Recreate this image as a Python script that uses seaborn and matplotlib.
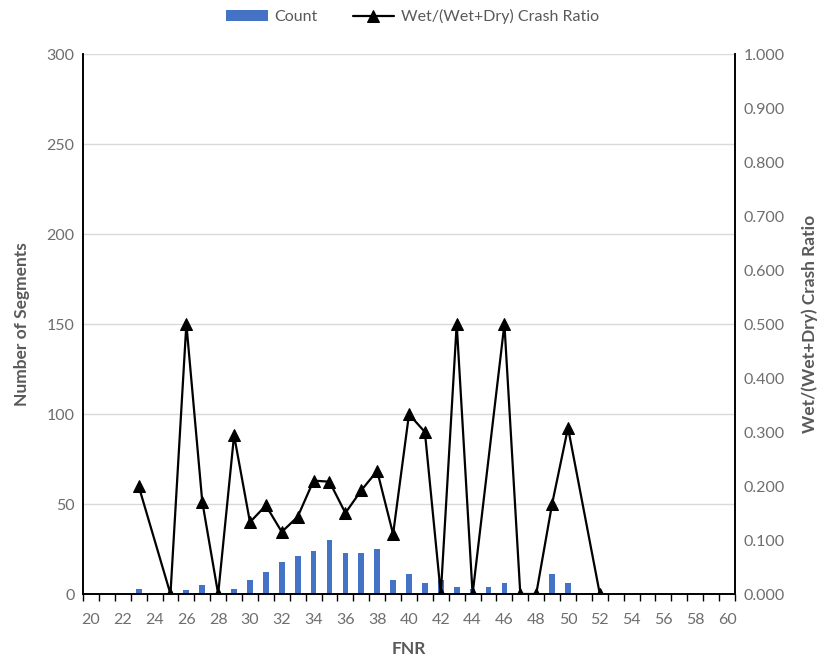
import matplotlib
matplotlib.use('Agg')
import matplotlib.pyplot as plt
import matplotlib.ticker as mticker
import seaborn as sns
import numpy as np
import pandas as pd

# FNR categories 20..60
fnr = list(range(20, 61))

# Number of segments per FNR value
count = [0, 0, 0, 3, 0, 1, 2, 5, 0, 3,
         8, 12, 18, 21, 24, 30, 23, 23, 25, 8,
         11, 6, 8, 4, 3, 4, 6, 0, 0, 11,
         6, 0, 0, 0, 0, 0, 0, 0, 0, 0,
         0]

# Wet/(Wet+Dry) crash ratio (nan = no value)
nan = np.nan
ratio = [nan, nan, nan, 0.200, nan, 0.000, 0.500, 0.171, 0.000, 0.294,
         0.133, 0.164, 0.115, 0.143, 0.210, 0.208, 0.150, 0.192, 0.228, 0.111,
         0.333, 0.300, 0.000, 0.500, 0.000, nan, 0.500, 0.000, 0.000, 0.167,
         0.308, nan, 0.000, nan, nan, nan, nan, nan, nan, nan,
         nan]

df = pd.DataFrame({'FNR': fnr, 'Count': count, 'Ratio': ratio})

sns.set_style('white')
plt.rcParams['font.family'] = ['Lato', 'DejaVu Sans']

grey = '#595959'
tick_grey = '#6e6e6e'
bar_color = '#4472C4'

fig = plt.figure(figsize=(8.25, 6.6), dpi=100)
ax = fig.add_axes([0.1006, 0.1, 0.7903, 0.818])

sns.barplot(data=df, x='FNR', y='Count', native_scale=True, color=bar_color,
            saturation=1, width=0.36, ax=ax, label='Count', zorder=2, linewidth=0)

ax.set_xlim(19.5, 60.5)
ax.set_ylim(0, 300)
ax.set_yticks(range(0, 301, 50))
ax.yaxis.grid(True, color='#D9D9D9', linewidth=1)
ax.set_axisbelow(True)

# labels on even categories, tick marks at category borders
ax.set_xticks(range(20, 61, 2))
ax.set_xticks(np.arange(19.5, 61, 1), minor=True)
ax.tick_params(axis='x', which='major', length=0, labelsize=11.5, labelcolor=tick_grey, pad=14)
ax.tick_params(axis='x', which='minor', length=5, width=1, color='black', direction='out', bottom=True)
ax.tick_params(axis='y', length=0, labelsize=11.5, labelcolor=tick_grey, pad=6)

ax.set_xlabel('FNR', fontsize=12.5, fontweight='bold', color=grey, labelpad=10)
ax.set_ylabel('Number of Segments', fontsize=12.5, fontweight='bold', color=grey, labelpad=12)

ax2 = ax.twinx()
sns.lineplot(data=df, x='FNR', y='Ratio', ax=ax2, color='black', linewidth=1.6,
             marker='^', markersize=9, markeredgecolor='black',
             label='Wet/(Wet+Dry) Crash Ratio', legend=False)
ax2.set_ylim(0, 1.0)
ax2.set_yticks(np.arange(0, 1.01, 0.1))
ax2.yaxis.set_major_formatter(mticker.FormatStrFormatter('%.3f'))
ax2.tick_params(axis='y', length=0, labelsize=11.5, labelcolor=tick_grey, pad=6)
ax2.set_ylabel('Wet/(Wet+Dry) Crash Ratio', fontsize=12.5, fontweight='bold', color=grey, labelpad=12)
ax2.grid(False)

for a in (ax, ax2):
    a.spines['top'].set_visible(False)
    for s in ('left', 'right', 'bottom'):
        a.spines[s].set_color('black')
        a.spines[s].set_linewidth(1.2)

h1, l1 = ax.get_legend_handles_labels()
h2, l2 = ax2.get_legend_handles_labels()
if ax.get_legend():
    ax.get_legend().remove()
leg = fig.legend(h1 + h2, l1 + l2, loc='upper center', bbox_to_anchor=(0.5, 1.008),
                 ncol=2, frameon=False, fontsize=11.5, handlelength=2.6,
                 handletextpad=0.4, columnspacing=2.2)
for t in leg.get_texts():
    t.set_color(grey)

fig.savefig('out.png', dpi=100)
